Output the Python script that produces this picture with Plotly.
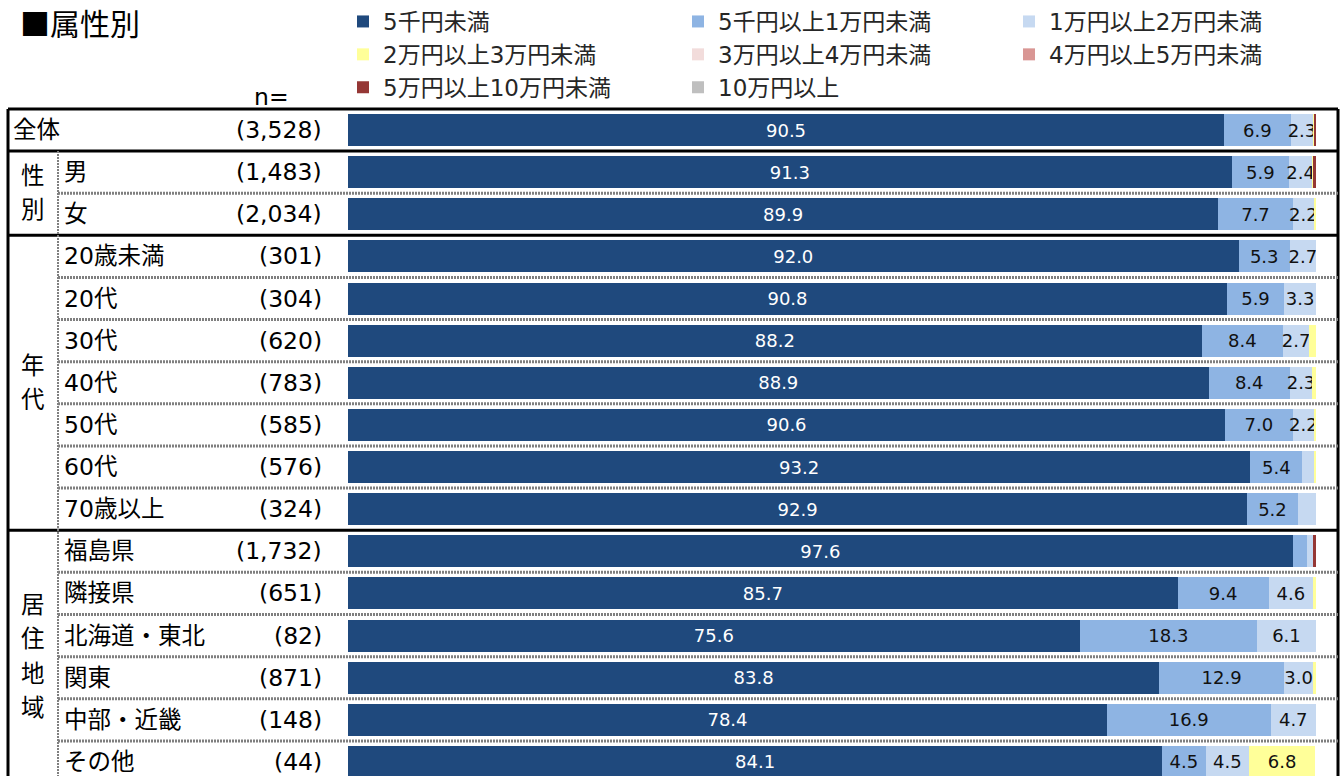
import plotly.graph_objects as go

# rows of the table (top to bottom)
categories = ['全体', '男', '女', '20歳未満', '20代', '30代', '40代', '50代', '60代', '70歳以上',
              '福島県', '隣接県', '北海道・東北', '関東', '中部・近畿', 'その他']
n_counts = [3528, 1483, 2034, 301, 304, 620, 783, 585, 576, 324, 1732, 651, 82, 871, 148, 44]

# group labels: (label, first row, last row)
groups = [('性別', 1, 2), ('年代', 3, 9), ('居住地域', 10, 15)]

series_names = ['5千円未満', '5千円以上1万円未満', '1万円以上2万円未満', '2万円以上3万円未満',
                '3万円以上4万円未満', '4万円以上5万円未満', '5万円以上10万円未満', '10万円以上']
lt_5k = [90.5, 91.3, 89.9, 92.0, 90.8, 88.2, 88.9, 90.6, 93.2, 92.9, 97.6, 85.7, 75.6, 83.8, 78.4, 84.1]
k5_10k = [6.9, 5.9, 7.7, 5.3, 5.9, 8.4, 8.4, 7.0, 5.4, 5.2, 1.5, 9.4, 18.3, 12.9, 16.9, 4.5]
m1_2 = [2.3, 2.4, 2.2, 2.7, 3.3, 2.7, 2.3, 2.2, 1.2, 1.9, 0.6, 4.6, 6.1, 3.0, 4.7, 4.5]
m2_3 = [0.1, 0.1, 0.2, 0.0, 0.0, 0.7, 0.4, 0.2, 0.2, 0.0, 0.0, 0.3, 0.0, 0.3, 0.0, 6.8]
m3_4 = [0.0] * 16
m4_5 = [0.0] * 16
m5_10 = [0.2, 0.3, 0.0, 0.0, 0.0, 0.0, 0.0, 0.0, 0.0, 0.0, 0.3, 0.0, 0.0, 0.0, 0.0, 0.0]
m10_up = [0.0] * 16
series_values = [lt_5k, k5_10k, m1_2, m2_3, m3_4, m4_5, m5_10, m10_up]

colors = ['#1F497D', '#8EB4E3', '#C6D9F1', '#FFFF99', '#F2DCDB', '#D99694', '#953735', '#BFBFBF']
legend_ids = ['legend', 'legend2', 'legend3']

W, H = 1344, 776
ROW0_PX, ROW_PX = 130, 42.13        # centre of first row, row pitch
FONT = 'DejaVu Sans, Noto Sans CJK JP'


def px(x):
    return x / W


fig = go.Figure()
for i, (name, vals) in enumerate(zip(series_names, series_values)):
    fig.add_trace(go.Bar(
        y=categories, x=vals, name=name, orientation='h',
        marker=dict(color=colors[i], line=dict(width=0)),
        width=0.76,
        text=['{:.1f}'.format(v) if v >= 2 else '' for v in vals],
        textposition='inside', insidetextanchor='middle', textangle=0,
        constraintext='none',
        textfont=dict(family=FONT, size=18, color='white' if i == 0 else '#111111'),
        legend=legend_ids[i % 3], legendgroup=name,
        hoverinfo='skip',
    ))

shapes = []
left, right = px(8), px(1338)
bottom = len(categories) + 1
# thick black frame and group separators
for yb in [-0.5, 0.5, 2.5, 9.5]:
    shapes.append(dict(type='line', xref='paper', yref='y', x0=left, x1=right, y0=yb, y1=yb,
                       line=dict(color='black', width=3)))
for xb in [left, right]:
    shapes.append(dict(type='line', xref='paper', yref='y', x0=xb, x1=xb, y0=-0.5, y1=bottom,
                       line=dict(color='black', width=3)))
# dotted separators inside groups
for _, a, b in groups:
    for r in range(a, b):
        shapes.append(dict(type='line', xref='paper', yref='y', x0=px(58), x1=right,
                           y0=r + 0.5, y1=r + 0.5,
                           line=dict(color='#7F7F7F', width=3, dash='2px,1px')))
shapes.append(dict(type='line', xref='paper', yref='y', x0=px(58), x1=px(58), y0=0.5, y1=bottom,
                   line=dict(color='#7F7F7F', width=2, dash='2px,1px')))

annotations = []
text_font = dict(family=FONT, size=23.5, color='black')
for i, (cat, n) in enumerate(zip(categories, n_counts)):
    annotations.append(dict(xref='paper', yref='y', x=px(11 if i == 0 else 62), y=i, text=cat,
                            xanchor='left', yanchor='middle', showarrow=False, font=text_font))
    annotations.append(dict(xref='paper', yref='y', x=px(324), y=i, text='({:,})'.format(n),
                            xanchor='right', yanchor='middle', showarrow=False, font=text_font))
char_step = 34.5 / ROW_PX
for label, a, b in groups:
    centre = (a + b) / 2
    for k, ch in enumerate(label):
        annotations.append(dict(xref='paper', yref='y', x=px(33),
                                y=centre + (k - (len(label) - 1) / 2) * char_step, text=ch,
                                xanchor='center', yanchor='middle', showarrow=False, font=text_font))
annotations.append(dict(xref='paper', yref='paper', x=px(271), y=1 - 97 / H, text='n=',
                        xanchor='center', yanchor='middle', showarrow=False, font=text_font))
annotations.append(dict(xref='paper', yref='paper', x=px(18), y=1 - 22 / H, text='■属性別',
                        xanchor='left', yanchor='middle', showarrow=False,
                        font=dict(family='Noto Sans CJK JP', size=30, color='black')))

legend_style = dict(orientation='v', yanchor='top', y=1, xanchor='left',
                    bgcolor='rgba(0,0,0,0)', tracegroupgap=0,
                    font=dict(family=FONT, size=23, color='#262626'))

fig.update_layout(
    width=W, height=H,
    barmode='stack',
    margin=dict(l=0, r=0, t=0, b=0),
    paper_bgcolor='white', plot_bgcolor='white',
    xaxis=dict(range=[0, 100], domain=[px(348), px(1316)], visible=False, fixedrange=True),
    yaxis=dict(type='category', categoryorder='array', categoryarray=categories,
               range=[(H - ROW0_PX) / ROW_PX, -ROW0_PX / ROW_PX], visible=False, fixedrange=True),
    legend=dict(x=px(343), **legend_style),
    legend2=dict(x=px(678), **legend_style),
    legend3=dict(x=px(1009), **legend_style),
    shapes=shapes,
    annotations=annotations,
    showlegend=True,
)

# page body has a default 8px margin; drop it so the figure sits at the top-left corner
fig.write_html('out.html', config={'displayModeBar': False},
               post_script="document.body.style.margin = '0';")
